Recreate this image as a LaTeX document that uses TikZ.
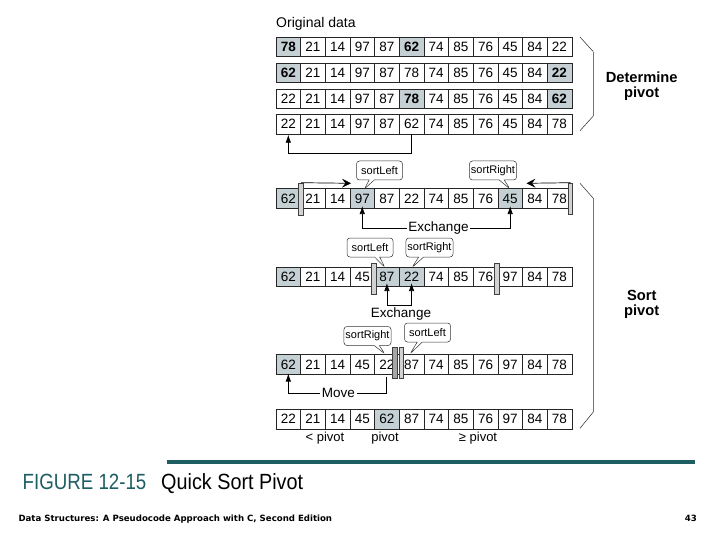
\documentclass[tikz,border=0pt]{standalone}
\usepackage{fontspec}
\setmainfont{Liberation Sans}
\newfontfamily\srcfont{DejaVu Sans}
\usetikzlibrary{arrows.meta,shapes.callouts,calc}
\definecolor{shade}{HTML}{C4D0D4}
\definecolor{tealc}{HTML}{1D5E62}
\definecolor{barfill}{HTML}{D2D2D2}
\begin{document}
\begin{tikzpicture}[x=1pt,y=-1pt,
  cell/.style={draw=black!85, line width=0.6pt, minimum width=24.65pt, minimum height=19.5pt,
    inner sep=0pt, anchor=center, font=\fontsize{13.5}{13.5}\selectfont},
  pl/.style={fill=white},
  sh/.style={fill=shade},
  shb/.style={fill=shade, font=\fontsize{13.5}{13.5}\selectfont\bfseries},
  bar/.style={draw=black!75, line width=0.6pt, fill=barfill, inner sep=0pt, minimum width=5pt, minimum height=31pt},
  co/.style={rectangle callout, draw=black!80, fill=white, rounded corners=3pt, line width=0.5pt,
    inner sep=1.5pt, minimum width=46pt, minimum height=19pt, callout pointer width=5pt,
    font=\fontsize{11}{11}\selectfont},
  arr/.style={draw=black, line width=0.7pt, -{Latex[length=8pt,width=5.5pt]}},
  sarr/.style={draw=black, line width=0.7pt, -{Stealth[length=9pt,width=9pt,inset=3.5pt]}},
  lbl/.style={font=\fontsize{13.5}{13.5}\selectfont, inner sep=1.5pt, fill=white},
  side/.style={font=\fontsize{14.7}{15}\selectfont\bfseries, align=center},
]
\useasboundingbox (0,0) rectangle (720,540);
\fill[white] (0,0) rectangle (720,540);

\node[anchor=base west, inner sep=0pt, font=\fontsize{14}{14}\selectfont] (orig) at (276,27.5) {Original data};

% rows
\foreach \v/\s [count=\i] in {78/shb,21/pl,14/pl,97/pl,87/pl,62/shb,74/pl,85/pl,76/pl,45/pl,84/pl,22/pl}
  \node[cell,\s] (r1c\i) at ({276+24.65*(\i-0.5)},47) {\v};
\foreach \v/\s [count=\i] in {62/shb,21/pl,14/pl,97/pl,87/pl,78/pl,74/pl,85/pl,76/pl,45/pl,84/pl,22/shb}
  \node[cell,\s] (r2c\i) at ({276+24.65*(\i-0.5)},73) {\v};
\foreach \v/\s [count=\i] in {22/pl,21/pl,14/pl,97/pl,87/pl,78/shb,74/pl,85/pl,76/pl,45/pl,84/pl,62/shb}
  \node[cell,\s] (r3c\i) at ({276+24.65*(\i-0.5)},99) {\v};
\foreach \v/\s [count=\i] in {22/pl,21/pl,14/pl,97/pl,87/pl,62/pl,74/pl,85/pl,76/pl,45/pl,84/pl,78/pl}
  \node[cell,\s] (r4c\i) at ({276+24.65*(\i-0.5)},124.2) {\v};
\foreach \v/\s [count=\i] in {62/sh,21/pl,14/pl,97/sh,87/pl,22/pl,74/pl,85/pl,76/pl,45/sh,84/pl,78/pl}
  \node[cell,\s] (r5c\i) at ({276+24.65*(\i-0.5)},198.5) {\v};
\foreach \v/\s [count=\i] in {62/sh,21/pl,14/pl,45/pl,87/sh,22/sh,74/pl,85/pl,76/pl,97/pl,84/pl,78/pl}
  \node[cell,\s] (r6c\i) at ({276+24.65*(\i-0.5)},277) {\v};
\foreach \v/\s [count=\i] in {62/sh,21/pl,14/pl,45/pl,22/pl,87/pl,74/pl,85/pl,76/pl,97/pl,84/pl,78/pl}
  \node[cell,\s] (r7c\i) at ({276+24.65*(\i-0.5)},364.5) {\v};
\foreach \v/\s [count=\i] in {22/pl,21/pl,14/pl,45/pl,62/sh,87/pl,74/pl,85/pl,76/pl,97/pl,84/pl,78/pl}
  \node[cell,\s] (r8c\i) at ({276+24.65*(\i-0.5)},419.2) {\v};

% bars
\node[bar, minimum height=32pt] (b5l) at (300.8,199) {};
\node[bar, minimum width=4.5pt] (b5r) at (570.5,198.5) {};
\node[bar] (b6l) at (373.5,278.3) {};
\node[bar] (b6r) at (496.7,278.3) {};
\node[bar, fill=black!35] (b7a) at (394.5,362.5) {};
\node[bar, minimum width=4pt] (b7b) at (401.3,362.5) {};

% determine -> sort arrow
\draw[arr, shorten >=0.5pt] (r4c6.south) -- ++(0,19.5) -| (r4c1.south);

% row 5 scan arrows
\coordinate (s5l) at (351,183.3);
\coordinate (s5r) at (526.5,183.3);
\draw[sarr] (b5l.north) -- (s5l);
\draw[sarr] (b5r.north) -- (s5r);

% callouts
\coordinate (t1) at (364.3,189);
\coordinate (t2) at (510,189);
\coordinate (t3) at (385,267.5);
\coordinate (t4) at (412,267.5);
\coordinate (t5) at (385,354);
\coordinate (t6) at (410,354);
\node[co, callout absolute pointer={(t1)}] (c1) at (379.5,170.5) {sortLeft};
\node[co, callout absolute pointer={(t2)}] (c2) at (493,170.5) {sortRight};
\node[co, callout absolute pointer={(t3)}] (c3) at (370,247.5) {sortLeft};
\node[co, callout absolute pointer={(t4)}] (c4) at (429.5,247.5) {sortRight};
\node[co, callout absolute pointer={(t5)}] (c5) at (367.5,336) {sortRight};
\node[co, callout absolute pointer={(t6)}] (c6) at (427.5,332.5) {sortLeft};

% exchange row 5
\node[lbl] (ex1) at (438.5,228.5) {Exchange};
\draw[arr, shorten >=-2.5pt] (ex1.west) -| (r5c4.south);
\draw[arr, shorten >=-2.5pt] (ex1.east) -| (r5c10.south);

% exchange row 6
\coordinate (ex2m) at (399.2,305);
\draw[arr, shorten >=-4pt] (ex2m) -| (r6c5.south);
\draw[arr, shorten >=-4pt] (ex2m) -| (r6c6.south);
\node[lbl, fill=none] (ex2) at (401,314) {Exchange};

% move
\coordinate (mv0) at (386,376.5);
\node[lbl] (mv) at (338.3,393.3) {Move};
\draw[line width=0.7pt] (mv0) |- (mv.east);
\draw[arr, shorten >=-1pt] (mv.west) -| (r7c1.south);

% labels under last row
\node[font=\fontsize{13}{13}\selectfont] (lp) at (325,438.3) {< pivot};
\node[font=\fontsize{13}{13}\selectfont] (pp) at (385,438.3) {pivot};
\node[font=\fontsize{13}{13}\selectfont] (gp) at (478,438.3) {≥ pivot};

% braces
\draw[black!55, line width=1.1pt] (593.3,51.7) -- (593.3,116);
\draw[black!85, line width=0.5pt] (580,37) -- (593.3,51.7) (593.3,116) -- (580,130.7);
\draw[black!55, line width=1.1pt] (593.3,198.3) -- (593.3,412);
\draw[black!85, line width=0.5pt] (580,183.3) -- (593.3,198.3) (593.3,412) -- (580,428.3);
\node[side] (dp) at (641.7,85.8) {Determine\\pivot};
\node[side] (sp) at (641.7,304) {Sort\\pivot};

% footer
\draw[tealc, line width=4pt] (167,462) -- (695,462);
\node[anchor=base west, inner sep=0pt, text=tealc, font=\fontsize{22}{22}\selectfont] (fig) at (22.5,489) {\scalebox{0.85}[1]{FIGURE 12-15}};
\node[anchor=base west, inner sep=0pt, font=\fontsize{22}{22}\selectfont] (ttl) at (161,489) {\scalebox{0.9}[1]{Quick Sort Pivot}};
\node[anchor=base west, inner sep=0pt, font=\fontsize{8.6}{9}\selectfont\srcfont\bfseries] (src) at (18.3,521.5) {Data Structures: A Pseudocode Approach with C, Second Edition};
\node[anchor=base east, inner sep=0pt, font=\fontsize{8.6}{9}\selectfont\srcfont\bfseries] (pg) at (697,521.5) {43};
\end{tikzpicture}
\end{document}
